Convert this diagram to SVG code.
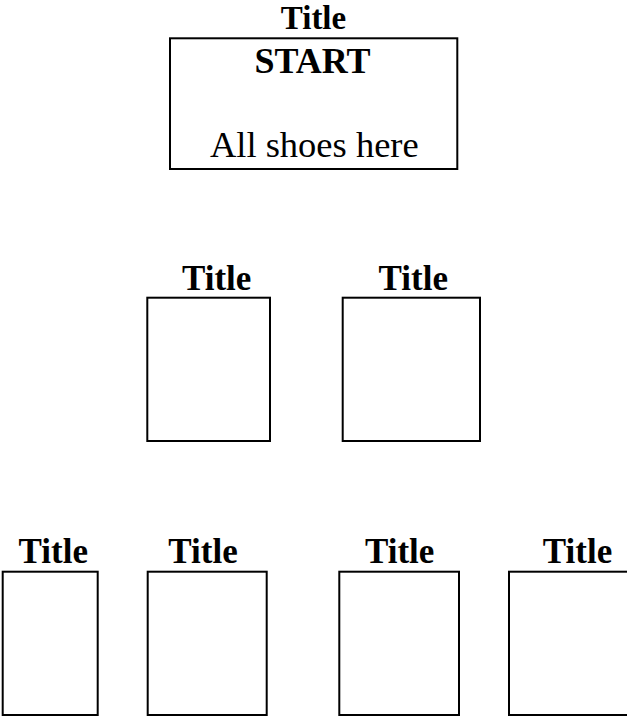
<svg xmlns="http://www.w3.org/2000/svg" width="627" height="720" viewBox="0 0 627 720">
<style>
.box{fill:#fff;stroke:#000;stroke-width:2}
.t{font-family:"Liberation Serif","Times New Roman",serif;font-weight:bold;text-anchor:middle;fill:#000}
.r{font-family:"Liberation Serif","Times New Roman",serif;text-anchor:middle;fill:#000}
</style>
<rect width="627" height="720" fill="#fff"/>
<g id="connectors"></g>
<g id="start">
<text class="t" x="313.5" y="29" font-size="33">Title</text>
<rect class="box" x="170" y="38.3" width="287.3" height="130.7"/>
<text class="t" x="312.5" y="72.5" font-size="36">START</text>
<text class="r" x="314.3" y="156.5" font-size="36.5">All shoes here</text>
</g>
<g id="mid1">
<text class="t" x="216.7" y="290" font-size="35">Title</text>
<rect class="box" x="147.3" y="297.7" width="122.7" height="143.3"/>
</g>
<g id="mid2">
<text class="t" x="413.3" y="290" font-size="35">Title</text>
<rect class="box" x="342.7" y="297.7" width="137.3" height="143.3"/>
</g>
<g id="bot1">
<text class="t" x="53.3" y="563.3" font-size="35">Title</text>
<rect class="box" x="2.7" y="571.7" width="95" height="143.3"/>
</g>
<g id="bot2">
<text class="t" x="203" y="563.3" font-size="35">Title</text>
<rect class="box" x="147.7" y="571.7" width="119" height="143.3"/>
</g>
<g id="bot3">
<text class="t" x="399.7" y="563.3" font-size="35">Title</text>
<rect class="box" x="339.3" y="571.7" width="119.7" height="143.3"/>
</g>
<g id="bot4">
<text class="t" x="577.5" y="563.3" font-size="35">Title</text>
<rect class="box" x="509" y="571.7" width="130" height="143.3"/>
</g>
</svg>
